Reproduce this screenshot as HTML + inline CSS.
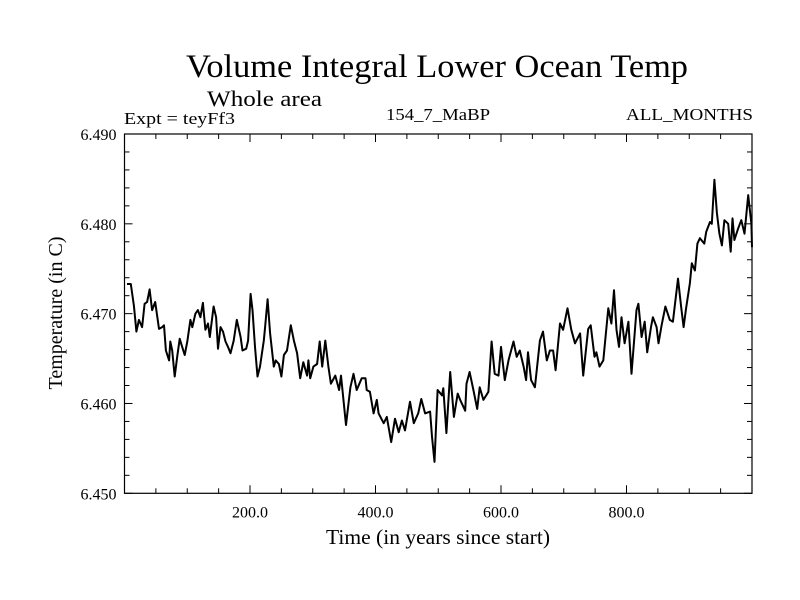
<!DOCTYPE html>
<html><head><meta charset="utf-8"><style>
html,body{margin:0;padding:0;background:#fff;}
svg{display:block;font-family:"Liberation Serif",serif;}
</style></head><body>
<svg id="chart" width="800" height="600" viewBox="0 0 800 600">
<text x="186" y="77" font-size="33" textLength="502" lengthAdjust="spacingAndGlyphs">Volume Integral Lower Ocean Temp</text>
<text x="207" y="106" font-size="22" textLength="115" lengthAdjust="spacingAndGlyphs">Whole area</text>
<text x="124" y="124" font-size="17" textLength="111" lengthAdjust="spacingAndGlyphs">Expt = teyFf3</text>
<text x="386" y="120" font-size="17" textLength="104" lengthAdjust="spacingAndGlyphs">154_7_MaBP</text>
<text x="626" y="120" font-size="17" textLength="127" lengthAdjust="spacingAndGlyphs">ALL_MONTHS</text>
<text x="326" y="544" font-size="21" textLength="224" lengthAdjust="spacingAndGlyphs">Time (in years since start)</text>
<text x="0" y="0" font-size="20" text-anchor="middle" transform="translate(62,313) rotate(-90)">Temperature (in C)</text>
<g id="ticks"></g>
<path id="series" fill="none" stroke="#000" stroke-width="2" stroke-linejoin="round"></path>
<rect x="124.5" y="134" width="627.5" height="359.3" fill="none" stroke="#000" stroke-width="1.2"></rect>
</svg>
<script>
const years = [4,10,15,19,23,28,32,36,40,44,49,55,60,63,66,71,73,76,80,84,88,92,96,100,105,108,113,117,121,125,129,133,136,142,146,149,153,157,161,165,169,174,179,185,188,194,197,201,204,208,212,216,222,224,228,232,238,241,246,250,254,259,265,270,275,280,285,291,293,296,301,307,311,315,320,325,329,336,342,345,353,360,365,370,378,384,386,391,397,402,405,413,418,425,431,437,442,447,455,461,468,473,479,487,490,494,499,506,508,513,519,525,531,535,543,545,550,556,562,566,572,580,585,590,596,600,606,612,620,625,630,636,640,643,648,654,662,667,673,678,683,687,694,699,706,712,718,726,731,739,743,749,752,757,763,771,776,780,784,788,792,797,803,808,816,819,824,829,833,839,842,848,851,856,862,869,874,882,887,891,895,901,904,909,913,917,924,927,933,936,940,944,948,952,956,962,966,969,972,978,983,988,994,999,1000];
const temps = [6.4733,6.4733,6.4709,6.4680,6.4693,6.4685,6.4711,6.4713,6.4727,6.4704,6.4713,6.4683,6.4685,6.4687,6.4659,6.4648,6.4669,6.4659,6.4630,6.4652,6.4672,6.4663,6.4654,6.4669,6.4693,6.4685,6.4700,6.4704,6.4696,6.4712,6.4682,6.4689,6.4674,6.4708,6.4696,6.4661,6.4685,6.4680,6.4669,6.4663,6.4656,6.4670,6.4693,6.4674,6.4659,6.4661,6.4670,6.4722,6.4704,6.4663,6.4630,6.4641,6.4670,6.4685,6.4716,6.4678,6.4641,6.4648,6.4644,6.4630,6.4654,6.4659,6.4687,6.4670,6.4656,6.4628,6.4646,6.4631,6.4648,6.4628,6.4641,6.4644,6.4669,6.4641,6.4670,6.4641,6.4622,6.4631,6.4615,6.4631,6.4576,6.4618,6.4633,6.4615,6.4628,6.4628,6.4615,6.4613,6.4589,6.4604,6.4589,6.4578,6.4585,6.4557,6.4583,6.4568,6.4581,6.4570,6.4602,6.4578,6.4589,6.4605,6.4589,6.4591,6.4563,6.4535,6.4615,6.4609,6.4617,6.4567,6.4635,6.4585,6.4611,6.4604,6.4592,6.4622,6.4635,6.4615,6.4594,6.4618,6.4604,6.4613,6.4669,6.4633,6.4631,6.4663,6.4626,6.4648,6.4669,6.4652,6.4659,6.4641,6.4626,6.4657,6.4626,6.4618,6.4670,6.4680,6.4648,6.4659,6.4659,6.4637,6.4689,6.4682,6.4706,6.4682,6.4667,6.4678,6.4631,6.4683,6.4687,6.4652,6.4657,6.4641,6.4648,6.4706,6.4689,6.4726,6.4682,6.4663,6.4696,6.4667,6.4691,6.4633,6.4704,6.4711,6.4674,6.4691,6.4657,6.4685,6.4696,6.4685,6.4667,6.4687,6.4708,6.4693,6.4691,6.4739,6.4708,6.4685,6.4706,6.4734,6.4756,6.4748,6.4778,6.4784,6.4778,6.4791,6.4802,6.4800,6.4849,6.4812,6.4789,6.4776,6.4804,6.4800,6.4769,6.4806,6.4782,6.4795,6.4804,6.4789,6.4832,6.4800,6.4774];
const xTickLabels = ["200.0","400.0","600.0","800.0"];
const xTickValues = [200,400,600,800];
const yTickLabels = ["6.450","6.460","6.470","6.480","6.490"];
const yTickValues = [6.450,6.460,6.470,6.480,6.490];

const X0=124.5, X1=752, Y0=493.3, Y1=134;
const xMin=0, xMax=1000, yMin=6.450, yMax=6.490;
function sx(v){return X0+(v-xMin)/(xMax-xMin)*(X1-X0);}
function sy(v){return Y0-(v-yMin)/(yMax-yMin)*(Y0-Y1);}
const NS="http://www.w3.org/2000/svg";
const g=document.getElementById('ticks');
function line(x1,y1,x2,y2,name){
  const l=document.createElementNS(NS,'line');
  l.setAttribute('x1',x1);l.setAttribute('y1',y1);l.setAttribute('x2',x2);l.setAttribute('y2',y2);
  l.setAttribute('stroke','#000');l.setAttribute('stroke-width','1');
  
  
  g.appendChild(l);
}
function text(x,y,s,anchor,name){
  const t=document.createElementNS(NS,'text');
  t.setAttribute('x',x);t.setAttribute('y',y);t.setAttribute('font-size','16');
  t.setAttribute('text-anchor',anchor);t.textContent=s;
  
  
  g.appendChild(t);
}
for(let v=50; v<1000; v+=50){
  const x=sx(v), major=(v%200===0), L=major?8:5;
  line(x,Y0,x,Y0-L,'x-tick');
  line(x,Y1,x,Y1+L,'x-tick-top');
}
for(let i=0;i<xTickValues.length;i++){
  text(sx(xTickValues[i]),Y0+24,xTickLabels[i],'middle','x-tick-label');
}
for(let k=0;k<=20;k++){
  const v=yMin+k*0.002, y=sy(v), major=(k%5===0), L=major?8:5;
  line(X0,y,X0+L,y,'y-tick');
  line(X1,y,X1-L,y,'y-tick-right');
}
for(let i=0;i<yTickValues.length;i++){
  text(X0-8,sy(yTickValues[i])+6,yTickLabels[i],'end','y-tick-label');
}
let d='';
for(let i=0;i<years.length;i++){
  d+=(i?'L':'M')+sx(years[i]).toFixed(1)+','+sy(temps[i]).toFixed(1);
}
document.getElementById('series').setAttribute('d',d);
</script>
</body></html>
